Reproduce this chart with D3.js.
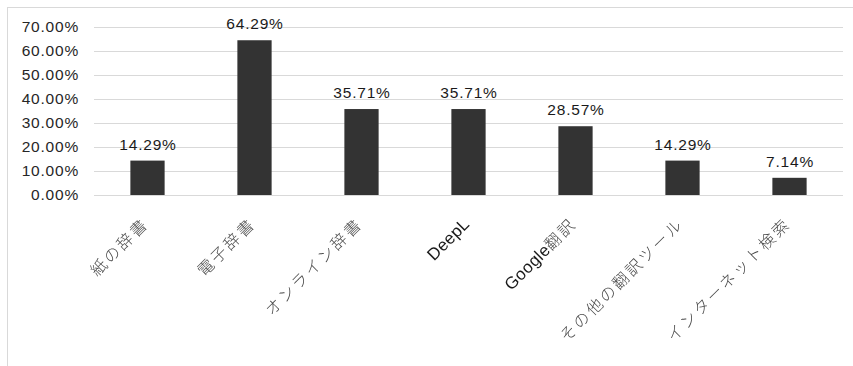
<!DOCTYPE html>
<html>
<head>
<meta charset="utf-8">
<script src="https://cdn.jsdelivr.net/npm/d3@7"></script>
<style>
  html, body { margin: 0; padding: 0; background: #fff; }
  svg { display: block; font-family: "Liberation Sans", Arial, sans-serif; }
</style>
</head>
<body>
<svg id="chart" width="853" height="366"></svg>
<script>
// Translation tools used (share of respondents)
const categories = ["紙の辞書", "電子辞書", "オンライン辞書", "DeepL", "Google翻訳", "その他の翻訳ツール", "インターネット検索"];
const values = [14.29, 64.29, 35.71, 35.71, 28.57, 14.29, 7.14];
const yTicks = [0, 10, 20, 30, 40, 50, 60, 70];

const svg = d3.select("#chart");
const W = 853, H = 366;
const plot = { left: 94, right: 843, top: 26.5, bottom: 195 };
const pct = d => d.toFixed(2) + "%";

// Outer chart frame (runs off the right and bottom edges)
svg.append("rect")
  .attr("x", 7.5).attr("y", 7.5)
  .attr("width", W + 10).attr("height", H + 10)
  .attr("fill", "none").attr("stroke", "#d9d9d9").attr("stroke-width", 1);

const x = d3.scaleBand()
  .domain(categories)
  .range([plot.left, plot.right])
  .paddingInner(0.68)
  .paddingOuter(0.34);

const y = d3.scaleLinear()
  .domain([0, 70])
  .range([plot.bottom, plot.top]);

// Horizontal gridlines
svg.append("g")
  .selectAll("line")
  .data(yTicks)
  .join("line")
  .attr("x1", plot.left).attr("x2", plot.right)
  .attr("y1", d => Math.round(y(d)) + 0.5).attr("y2", d => Math.round(y(d)) + 0.5)
  .attr("stroke", "#d9d9d9").attr("stroke-width", 1);

// Y axis labels
const yAxis = d3.axisLeft(y)
  .tickValues(yTicks)
  .tickFormat(pct)
  .tickSize(0)
  .tickPadding(0);
const gy = svg.append("g")
  .attr("transform", `translate(${plot.left - 15},0)`)
  .call(yAxis);
gy.select(".domain").remove();
gy.selectAll("text")
  .attr("font-size", 15.5)
  .attr("letter-spacing", 0.8)
  .attr("fill", "#262626")
  .style("font-family", "'Liberation Sans', Arial, sans-serif");

// Bars
svg.append("g")
  .selectAll("rect")
  .data(values)
  .join("rect")
  .attr("x", (d, i) => x(categories[i]))
  .attr("y", d => y(d))
  .attr("width", x.bandwidth())
  .attr("height", d => y(0) - y(d))
  .attr("fill", "#333333");

// Value labels above bars
svg.append("g")
  .selectAll("text")
  .data(values)
  .join("text")
  .attr("x", (d, i) => x(categories[i]) + x.bandwidth() / 2 + 0.5)
  .attr("y", d => y(d) - 11)
  .attr("text-anchor", "middle")
  .attr("font-size", 15.5)
  .attr("letter-spacing", 0.8)
  .attr("fill", "#1a1a1a")
  .text(pct);

// Rotated category labels; Latin and Japanese runs styled separately
const xAxis = d3.axisBottom(x).tickSize(0).tickPadding(0).tickFormat(() => "");
const gx = svg.append("g")
  .attr("transform", `translate(0,${plot.bottom})`)
  .style("filter", "grayscale(1)")
  .call(xAxis);
gx.select(".domain").remove();

const runs = s => s.match(/[\x00-\x7F]+|[^\x00-\x7F]+/g);
gx.selectAll(".tick text")
  .attr("text-anchor", "end")
  .attr("y", 0)
  .attr("dy", 0)
  .attr("transform", "translate(2,30) rotate(-45)")
  .each(function(d) {
    const t = d3.select(this);
    runs(d).forEach(r => {
      const latin = /^[\x00-\x7F]+$/.test(r);
      t.append("tspan")
        .attr("font-family", latin ? "'Liberation Sans', Arial, sans-serif" : "'Noto Sans CJK JP', sans-serif")
        .attr("font-size", latin ? 17 : 16)
        .attr("letter-spacing", latin ? 0.3 : 2.5)
        .attr("fill", latin ? "#1a1a1a" : "#4a4a4a")
        .attr("font-weight", latin ? 400 : 300)
        .text(r);
    });
  });
</script>
</body>
</html>
